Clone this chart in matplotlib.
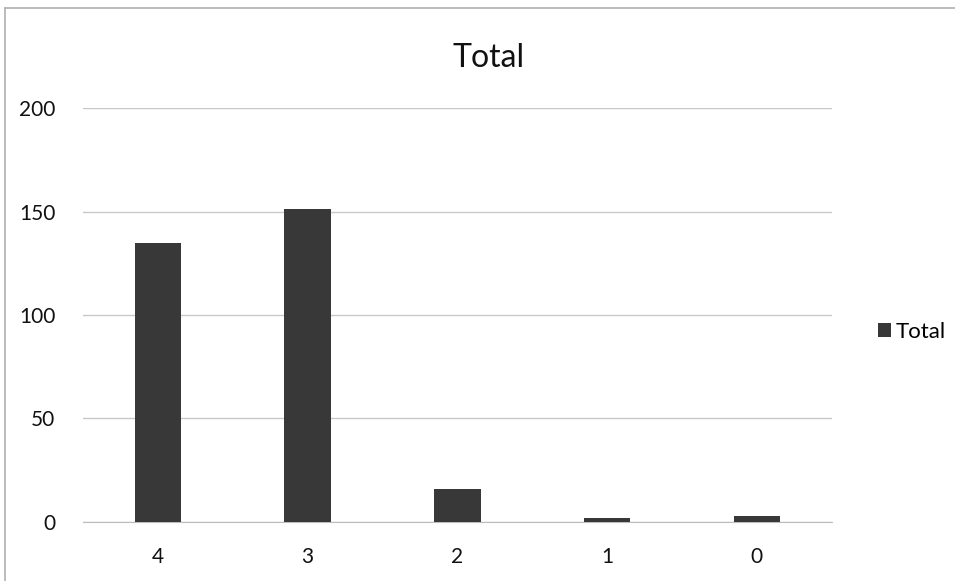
import numpy as np
import matplotlib
matplotlib.use("Agg")
from matplotlib import pyplot as plt
from matplotlib.lines import Line2D

# Data
categories = ["4", "3", "2", "1", "0"]
totals = [135, 151, 16, 2, 3]
yticks = [0, 50, 100, 150, 200]

plt.rcParams['font.family'] = ['Lato', 'DejaVu Sans']

fig = plt.figure(figsize=(9.55, 5.81), dpi=100)
fig.patch.set_facecolor("white")

# outer chart frame (scanned Excel chart border)
fig.add_artist(Line2D([0.005, 0.005], [0.0, 0.986], color="#b0b0b0", lw=1.2))
fig.add_artist(Line2D([0.005, 1.0], [0.986, 0.986], color="#b0b0b0", lw=1.2))

ax = fig.add_axes([0.087, 0.1016, 0.784, 0.7124])
x = np.arange(len(categories))
ax.bar(x, totals, width=0.31, color="#383838", label="Total", zorder=3)

ax.set_xlim(-0.5, len(categories) - 0.5)
ax.set_ylim(0, 200)
ax.set_yticks(yticks)
ax.set_xticks(x)
ax.set_xticklabels(categories)
ax.yaxis.grid(True, color="#c8c8c8", lw=1.0, zorder=0)
for s in ["top", "right", "left"]:
    ax.spines[s].set_visible(False)
ax.spines["bottom"].set_color("#bdbdbd")
ax.tick_params(axis="both", length=0, labelsize=15, colors="#111111")
ax.tick_params(axis="y", pad=20)
ax.tick_params(axis="x", pad=18)

fig.text(0.512, 0.9, "Total", ha="center", va="center", fontsize=23, color="#111111")

ax.legend(loc="center left", bbox_to_anchor=(1.035, 0.46), frameon=False,
          fontsize=16, handlelength=0.6, handleheight=0.6, handletextpad=0.2)

fig.savefig("out.png", dpi=100)
